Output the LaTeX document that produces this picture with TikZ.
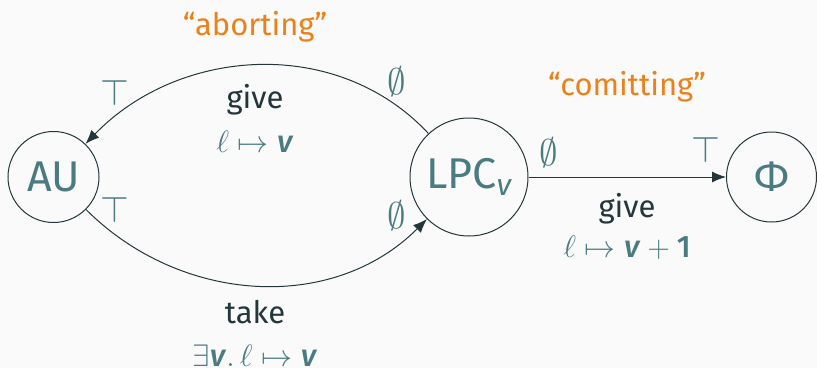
\documentclass[tikz,border=0pt]{standalone}
\usepackage{fix-cm}
\usepackage{amsmath}
\usepackage{fontspec}
\setmainfont{Fira Sans}[BoldFont=* Medium, BoldItalicFont=* Medium Italic]
\usetikzlibrary{arrows.meta}
\definecolor{bgc}{HTML}{FAFAFA}
\definecolor{dteal}{HTML}{23373B}
\definecolor{lteal}{HTML}{4A7B81}
\definecolor{morange}{HTML}{EB811B}
\newcommand{\vv}{\textbf{\textit{v}}}
\tikzset{
  st/.style={circle, draw=dteal, line width=1pt, text=lteal, inner sep=0pt, font=\fontsize{43}{50}\selectfont},
  act/.style={text=dteal, font=\fontsize{31}{37}\selectfont},
  mth/.style={text=lteal, font=\fontsize{31}{37}\selectfont},
  mark2/.style={text=lteal, font=\fontsize{37}{44}\selectfont},
  quot/.style={text=morange, font=\fontsize{31}{37}\selectfont},
  arr/.style={draw=dteal, line width=1pt, -{Latex[length=14pt,width=11pt]}},
}
\begin{document}
\begin{tikzpicture}[x=1pt,y=1pt]
\fill[bgc] (0,0) rectangle (817,368);
\useasboundingbox (0,0) rectangle (817,368);
\node[st, minimum size=91pt] (au) at (53.5,191) {AU};
\node[st, minimum size=118pt] (lpc) at (469,191) {LPC$_{\textit{v}}$};
\node[st, minimum size=90pt] (phi) at (771.5,191) {Φ};
\draw[arr] (lpc.133) to[out=133,in=46] (au.46);
\draw[arr] (au.-45) to[out=-45,in=225] (lpc.225);
\draw[arr] (lpc.east) -- (phi.west);
\node[quot] (ab) at (255,341) {“aborting”};
\node[act] (g1) at (255,268) {give};
\node[mth] (m1) at (255,226) {$\ell\mapsto\vv$};
\node[mark2] (t1) at (115,275) {$\top$};
\node[mark2] (t2) at (115,158) {$\top$};
\node[mark2] (e1) at (397,286) {$\emptyset$};
\node[mark2] (e2) at (397,152) {$\emptyset$};
\node[mark2] (e3) at (549,215) {$\emptyset$};
\node[mark2] (t3) at (706,218) {$\top$};
\node[quot] (cm) at (627,281) {“comitting”};
\node[act] (g2) at (627,159) {give};
\node[mth] (m2) at (627,120) {$\ell\mapsto\vv+\textbf{1}$};
\node[act] (tk) at (255,56) {take};
\node[mth] (m3) at (255,12) {$\exists\vv.\,\ell\mapsto\vv$};
\end{tikzpicture}
\end{document}
